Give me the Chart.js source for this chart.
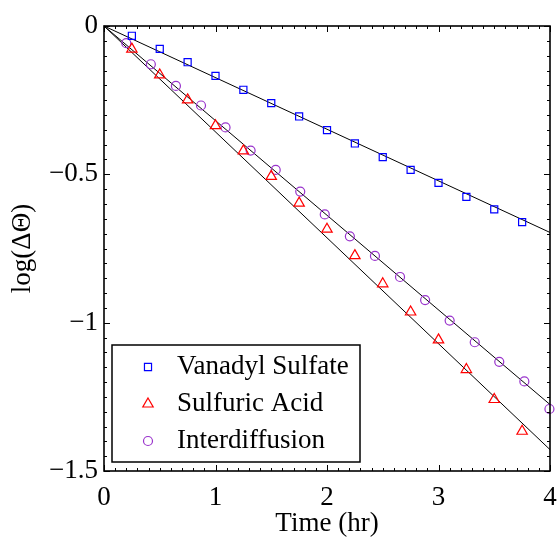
<!DOCTYPE html>
<html>
<head>
<meta charset="utf-8">
<script src="https://cdn.jsdelivr.net/npm/chart.js@4.4.0/dist/chart.umd.min.js"></script>
<style>
  html, body { margin: 0; padding: 0; background: #fff; }
  #wrap { width: 558px; height: 538px; }
</style>
</head>
<body>
<div id="wrap"><canvas id="chart" width="558" height="538"></canvas></div>
<script>
// DATA
const vanadylX = [0.25, 0.5, 0.75, 1.0, 1.25, 1.5, 1.75, 2.0, 2.25, 2.5, 2.75, 3.0, 3.25, 3.5, 3.75]
const vanadylY = [-0.033, -0.077, -0.122, -0.168, -0.215, -0.260, -0.305, -0.351, -0.396, -0.442, -0.485, -0.529, -0.576, -0.618, -0.661]

const sulfuricX = [0.25, 0.5, 0.75, 1.0, 1.25, 1.5, 1.75, 2.0, 2.25, 2.5, 2.75, 3.0, 3.25, 3.5, 3.75]
const sulfuricY = [-0.078, -0.165, -0.249, -0.336, -0.421, -0.507, -0.597, -0.685, -0.774, -0.869, -0.964, -1.058, -1.158, -1.259, -1.366]

const interX = [0.2, 0.42, 0.645, 0.87, 1.09, 1.315, 1.54, 1.76, 1.98, 2.205, 2.43, 2.655, 2.88, 3.1, 3.325, 3.545, 3.77, 3.995]
const interY = [-0.058, -0.129, -0.202, -0.268, -0.342, -0.420, -0.485, -0.558, -0.635, -0.709, -0.775, -0.846, -0.924, -0.993, -1.066, -1.132, -1.198, -1.291]

// fitted lines (end points)
const fitX = [0, 4]
const vanadylFit = [0, -0.696]
const sulfuricFit = [0, -1.428]
const interFit = [0, -1.276]

const seriesNames = ["Vanadyl Sulfate", "Sulfuric Acid", "Interdiffusion"]
const xTicks = [0, 1, 2, 3, 4]
const yTicks = [0, -0.5, -1, -1.5]

const FONT = "'Liberation Serif', 'Times New Roman', serif"
const BLUE = "#0000ff"
const RED = "#ff0000"
const PURPLE = "#9933cc"

function toPoints(xs, ys) {
  return xs.map((x, i) => ({ x: x, y: ys[i] }))
}

function fitLine(ys) {
  return {
    type: "line",
    data: toPoints(fitX, ys),
    borderColor: "#000",
    borderWidth: 1,
    pointRadius: 0,
    tension: 0,
    fill: false,
    clip: false,
  }
}

function markers(name, xs, ys, color, style, radius) {
  return {
    type: "scatter",
    label: name,
    data: toPoints(xs, ys),
    pointStyle: style,
    pointRadius: radius,
    pointHoverRadius: radius,
    pointBorderColor: color,
    pointBackgroundColor: "rgba(0,0,0,0)",
    pointBorderWidth: 1.2,
    clip: false,
  }
}

// frame, inward ticks and the legend box
const framePlugin = {
  id: "frame",
  afterDraw(chart) {
    const c = chart.ctx
    const a = chart.chartArea
    const xs = chart.scales.x
    const ys = chart.scales.y
    c.save()
    c.strokeStyle = "#000"
    c.lineWidth = 1

    // x ticks, minor every 0.1
    for (let i = 0; i <= 40; i++) {
      const v = i / 10
      const px = Math.round(xs.getPixelForValue(v)) + 0.5
      const len = i % 10 === 0 ? 6 : 3
      c.beginPath()
      c.moveTo(px, a.bottom)
      c.lineTo(px, a.bottom - len)
      c.moveTo(px, a.top)
      c.lineTo(px, a.top + len)
      c.stroke()
    }
    // y ticks, minor every 0.05
    for (let i = 0; i <= 30; i++) {
      const v = -i / 20
      const py = Math.round(ys.getPixelForValue(v)) + 0.5
      const len = i % 10 === 0 ? 6 : 3
      c.beginPath()
      c.moveTo(a.left, py)
      c.lineTo(a.left + len, py)
      c.moveTo(a.right, py)
      c.lineTo(a.right - len, py)
      c.stroke()
    }

    c.lineWidth = 1.6
    c.strokeRect(a.left, a.top, a.right - a.left, a.bottom - a.top)

    // legend
    const box = { x: 112, y: 345, w: 248, h: 117 }
    c.fillStyle = "#fff"
    c.fillRect(box.x, box.y, box.w, box.h)
    c.lineWidth = 1.5
    c.strokeRect(box.x, box.y, box.w, box.h)

    const styles = [["rect", BLUE, 5], ["triangle", RED, 6], ["circle", PURPLE, 4.5]]
    c.font = "27px " + FONT
    c.textBaseline = "middle"
    c.textAlign = "left"
    seriesNames.forEach((name, i) => {
      const y = box.y + 22 + i * 37
      c.strokeStyle = styles[i][1]
      c.fillStyle = "rgba(0,0,0,0)"
      c.lineWidth = 1.2
      Chart.helpers.drawPoint(c, { pointStyle: styles[i][0], radius: styles[i][2], borderWidth: 1.2 }, 148, y)
      c.fillStyle = "#000"
      c.fillText(name, 177, y)
    })
    c.restore()
  },
}

const ctx = document.getElementById("chart").getContext("2d")

new Chart(ctx, {
  data: {
    datasets: [
      markers(seriesNames[0], vanadylX, vanadylY, BLUE, "rect", 5),
      markers(seriesNames[1], sulfuricX, sulfuricY, RED, "triangle", 6),
      markers(seriesNames[2], interX, interY, PURPLE, "circle", 4.5),
      fitLine(vanadylFit),
      fitLine(sulfuricFit),
      fitLine(interFit),
    ],
  },
  options: {
    responsive: false,
    animation: false,
    devicePixelRatio: 1,
    layout: { padding: { top: 26, right: 8, left: 0, bottom: 0 } },
    plugins: {
      legend: { display: false },
      tooltip: { enabled: false },
    },
    scales: {
      x: {
        type: "linear",
        min: 0,
        max: 4,
        afterBuildTicks: (scale) => {
          scale.ticks = xTicks.map((v) => ({ value: v }))
        },
        afterFit: (scale) => {
          scale.height = 67
          scale.paddingLeft = 0
          scale.paddingRight = 0
        },
        grid: { display: false, drawTicks: false },
        border: { display: false },
        ticks: {
          color: "#000",
          font: { family: FONT, size: 27 },
          padding: 11,
          maxRotation: 0,
        },
        title: {
          display: true,
          text: "Time (hr)",
          color: "#000",
          font: { family: FONT, size: 27, lineHeight: 1 },
          padding: { top: 0, bottom: 1 },
        },
      },
      y: {
        type: "linear",
        min: -1.5,
        max: 0,
        afterBuildTicks: (scale) => {
          scale.ticks = yTicks.map((v) => ({ value: v }))
        },
        afterFit: (scale) => {
          scale.width = 104
          scale.paddingTop = 0
          scale.paddingBottom = 0
        },
        grid: { display: false, drawTicks: false },
        border: { display: false },
        ticks: {
          color: "#000",
          font: { family: FONT, size: 27 },
          padding: 6,
          callback: (v) => String(v).replace("-", "\u2212"),
        },
        title: {
          display: true,
          text: "log(\u0394\u0398)",
          color: "#000",
          font: { family: FONT, size: 27, lineHeight: 1 },
          padding: { top: 9, bottom: 0 },
        },
      },
    },
  },
  plugins: [framePlugin],
})
</script>
</body>
</html>
